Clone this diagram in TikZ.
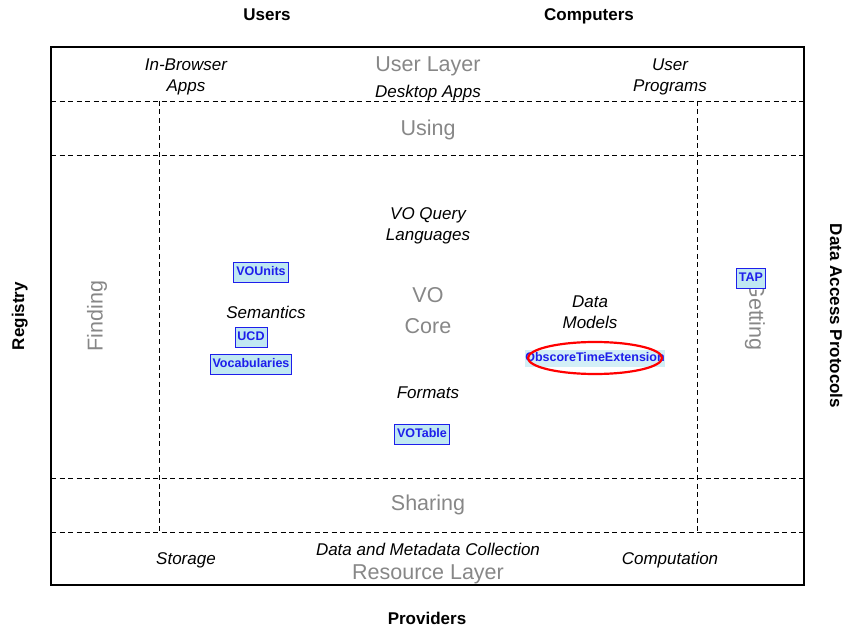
\documentclass[tikz,border=0pt]{standalone}
\usepackage{fontspec}
\setmainfont{Liberation Sans}
\usetikzlibrary{positioning}

\definecolor{boxfill}{RGB}{192,232,242}
\definecolor{boxblue}{RGB}{30,30,235}
\definecolor{layergray}{RGB}{135,135,135}

\tikzset{
  lbl/.style={font=\fontsize{17}{21.5}\selectfont\itshape, align=center},
  layer/.style={font=\fontsize{21.5}{26}\selectfont, text=layergray, align=center},
  side/.style={font=\fontsize{17}{20}\selectfont\bfseries, text height=12pt, text depth=0pt},
  stdbox/.style={draw=boxblue, fill=boxfill, text=boxblue, line width=0.9pt,
    font=\fontsize{12.5}{14}\selectfont\bfseries, inner xsep=2.5pt,
    text height=9.5pt, text depth=2.5pt, inner ysep=4pt},
  sep/.style={dashed, dash pattern=on 5pt off 3.5pt, line width=0.8pt}
}

\begin{document}
\begin{tikzpicture}[x=1pt,y=-1pt]
            \useasboundingbox (0,0) rectangle (846,628);

            \draw[line width=1.1pt] (51,47) rectangle (804,585);

            \draw[sep] (51,101) -- (804,101);
            \draw[sep] (51,155) -- (804,155);
            \draw[sep] (51,478) -- (804,478);
            \draw[sep] (51,532) -- (804,532);
            \draw[sep] (159,101) -- (159,532);
            \draw[sep] (697,101) -- (697,532);

            % outside labels
            \node[side] (users) at (267,15) {Users};
            \node[side] (computers) at (589,15) {Computers};
            \node[side] (providers) at (427,618) {Providers};
            \node[side, rotate=90] (registry) at (18,316) {Registry};
            \node[side, rotate=-90] (dap) at (836,316) {Data Access Protocols};

            % user layer
            \node[layer] (userlayer) at (428,66) {User Layer};
            \node[lbl] (browser) at (186,77) {In-Browser\\Apps};
            \node[lbl] (desktop) at (428,93) {Desktop Apps};
            \node[lbl] (programs) at (670,77) {User\\Programs};

            \node[layer] (using) at (428,130) {Using};
            \node[layer, rotate=90] (finding) at (97,316) {Finding};
            \node[layer, rotate=-90] (getting) at (755,316) {Getting};
            \node[layer] (sharing) at (428,505) {Sharing};

            % core
            \node[lbl] (query) at (428,226) {VO Query\\Languages};
            \node[layer, font=\fontsize{21.5}{31}\selectfont] (core) at (428,311) {VO\\Core};
            \node[lbl] (semantics) at (266,312) {Semantics};
            \node[lbl] (models) at (590,312) {Data\\Models};
            \node[lbl] (formats) at (428,393) {Formats};

            % resource layer
            \node[lbl] (storage) at (186,560) {Storage};
            \node[lbl] (collection) at (428,549) {Data and Metadata Collection};
            \node[layer] (resource) at (428,574) {Resource Layer};
            \node[lbl] (computation) at (670,560) {Computation};

            % standards
            \node[stdbox] (vounits) at (261,272) {VOUnits};
            \node[stdbox] (ucd) at (251,337) {UCD};
            \node[stdbox] (vocab) at (251,364) {Vocabularies};
            \node[stdbox] (votable) at (422,434) {VOTable};
            \node[stdbox] (tap) at (751,278) {TAP};
            \node[stdbox, draw=none, fill=boxfill!70, inner xsep=0pt, inner ysep=2.5pt] (obscore) at (595,358) {ObscoreTimeExtension};
            \draw[red, line width=2.2pt] (obscore.center) ellipse (67 and 16);
        \end{tikzpicture}
\end{document}
